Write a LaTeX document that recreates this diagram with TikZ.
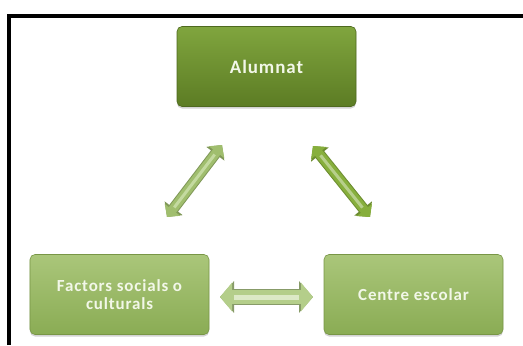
\documentclass[tikz,border=0pt]{standalone}
\usepackage{fontspec}
\setmainfont{Carlito}
\newfontfamily\boxfont[LetterSpace=5]{Carlito}
\usetikzlibrary{arrows.meta,shadows,positioning}
\definecolor{darkA}{RGB}{128,165,62}
\definecolor{darkB}{RGB}{92,124,36}
\definecolor{lightA}{RGB}{170,198,122}
\definecolor{lightB}{RGB}{138,172,84}
\definecolor{boxline}{RGB}{120,150,70}
\definecolor{txt}{RGB}{242,247,232}
\definecolor{arrL}{RGB}{160,190,110}
\definecolor{arrR}{RGB}{135,175,60}
\definecolor{arrH}{RGB}{180,206,138}
\definecolor{hiL}{RGB}{196,218,160}
\tikzset{
  boxbase/.style={rounded corners=5bp, minimum width=179bp, minimum height=80bp,
    draw=boxline, line width=0.6bp, align=center, text=txt,
    drop shadow={opacity=0.35, shadow xshift=0bp, shadow yshift=-2bp}},
  darkbox/.style={boxbase, top color=darkA, bottom color=darkB, draw=darkB!85!black},
  lightbox/.style={boxbase, top color=lightA, bottom color=lightB},
}
\begin{document}
\begin{tikzpicture}[x=1bp,y=-1bp]
\useasboundingbox (0,0) rectangle (523,345);
% frame
\draw[line width=4.5bp] (8.8,345) -- (8.8,15.8) -- (523,15.8);
% boxes
\node[darkbox, font=\boxfont\bfseries\fontsize{19}{21}\selectfont] (alum) at (266.5,66.5) {Alumnat};
\node[lightbox, font=\boxfont\bfseries\fontsize{17}{18}\selectfont] (fact) at (119.5,294.5) {Factors socials o\\culturals};
\node[lightbox, font=\boxfont\bfseries\fontsize{17}{18}\selectfont] (cent) at (413.5,294.5) {Centre escolar};
% arrow end points
\coordinate (l1) at (167,217);
\coordinate (l2) at (222,145);
\coordinate (r1) at (313,146);
\coordinate (r2) at (370,217);
\coordinate (h1) at (220,297);
\coordinate (h2) at (313,297);
% arrows
\draw[arrL!80!black, line width=11bp, {Triangle[length=11bp,width=22bp]}-{Triangle[length=11bp,width=22bp]}] (l1) -- (l2);
\draw[arrL, line width=9bp, {Triangle[length=9bp,width=19bp]}-{Triangle[length=9bp,width=19bp]}] (l1) -- (l2);
\draw[hiL, line width=3bp, shorten <=12bp, shorten >=12bp] (l1) -- (l2);
\draw[arrR!80!black, line width=11bp, {Triangle[length=11bp,width=22bp]}-{Triangle[length=11bp,width=22bp]}] (r1) -- (r2);
\draw[arrR, line width=9bp, {Triangle[length=9bp,width=19bp]}-{Triangle[length=9bp,width=19bp]}] (r1) -- (r2);
\draw[arrR!60!white, line width=3bp, shorten <=12bp, shorten >=12bp] (r1) -- (r2);
\draw[arrH!75!black, line width=16bp, {Triangle[length=14bp,width=31bp]}-{Triangle[length=14bp,width=31bp]}] (h1) -- (h2);
\draw[arrH, line width=14bp, {Triangle[length=12bp,width=28bp]}-{Triangle[length=12bp,width=28bp]}] (h1) -- (h2);
\draw[hiL!60!white, line width=5bp, shorten <=14bp, shorten >=14bp] (h1) -- (h2);
\end{tikzpicture}
\end{document}
